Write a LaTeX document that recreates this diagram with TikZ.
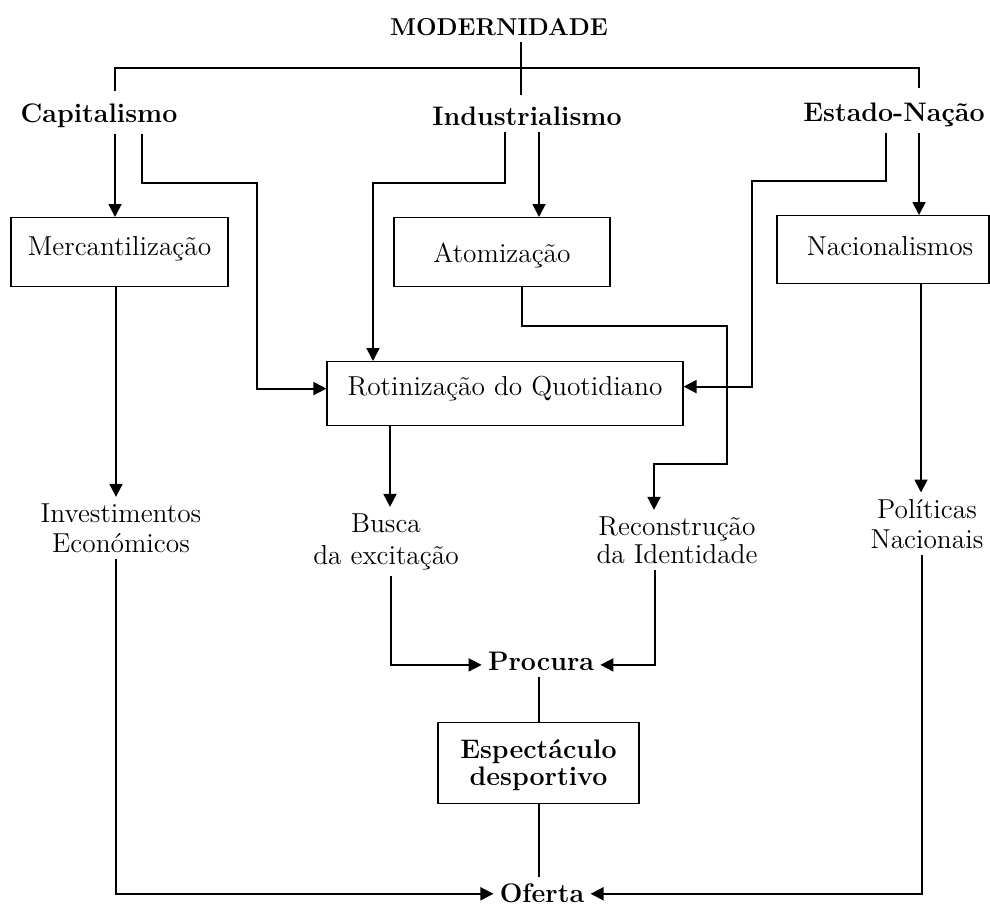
\documentclass[tikz,border=0pt]{standalone}
\usetikzlibrary{arrows.meta}
\begin{document}
\begin{tikzpicture}[x=0.5pt,y=-0.5pt,
  lbl/.style={anchor=base, inner sep=3pt, font=\fontsize{13.4}{15}\selectfont\bfseries},
  txt/.style={anchor=base, inner sep=3pt, align=center, font=\fontsize{13.7}{15}\selectfont},
  box/.style={draw, line width=0.6pt, inner sep=0pt, anchor=north, font=\fontsize{13.7}{15}\selectfont},
  link/.style={line width=0.9pt},
  arr/.style={link, -{Triangle[length=6.5pt,width=6.5pt]}}]
\useasboundingbox (0,0) rectangle (990,906);

% --- labels of the top level
\node[lbl, font=\fontsize{12.2}{14}\selectfont\bfseries] (mod) at (499,35) {MODERNIDADE};
\node[lbl] (cap) at (99,122) {Capitalismo};
\node[lbl] (ind) at (527,125) {Industrialismo};
\node[lbl] (est) at (894,121) {Estado-Nação};

% --- boxes
\node[box, minimum width=108.5pt, text height=19pt, text depth=15.5pt] (merc) at (119.5,217) {Mercantilização\hspace{7.5pt}};
\node[box, minimum width=108pt, text height=22.5pt, text depth=12pt] (atom) at (502,217) {Atomização\hspace{4pt}};
\node[box, minimum width=106pt, text height=20pt, text depth=14pt] (nac) at (883,215) {\hspace{7pt}Nacionalismos};
\node[box, minimum width=178pt, text height=17pt, text depth=15pt] (rot) at (505,361) {Rotinização do Quotidiano\hspace{6pt}};
\node[box, minimum width=100.5pt, text height=31.5pt, text depth=9pt, align=center,
      font=\fontsize{13.4}{13.5}\selectfont\bfseries] (esp) at (538.5,722) {Espectáculo\\desportivo};

% --- intermediate labels (anchored at the baseline of their last line)
\node[txt] (inv) at (121,552) {Investimentos\\Económicos};
\node[txt, font=\fontsize{13.7}{16}\selectfont] (bus) at (386,564) {Busca\\da excitação};
\node[txt, font=\fontsize{13.7}{14}\selectfont] (rec) at (677,563) {Reconstrução\\da Identidade};
\node[txt] (pol) at (927,548) {Políticas\\Nacionais};
\node[lbl] (proc) at (541,670) {Procura};
\node[lbl] (ofe) at (542,902) {Oferta};

% --- branching from the top
\coordinate (hub) at (521,68);
\coordinate (hubend) at (521,95);
\coordinate (barL) at (115,91);
\coordinate (barR) at (919,88);
\draw[link] (mod.south -| hub) -- (hubend);
\draw[link] (barL) |- (hub) -| (barR);

% --- Capitalismo
\draw[arr] (cap.south -| 115,0) -- (merc.north -| 115,0);
\draw[arr] (cap.south -| 142,0) |- (257,183) |- ([yshift=2.5pt]rot.west);

% --- Industrialismo
\draw[arr] (ind.south -| 505,0) |- (373,183) -- (rot.north -| 373,0);
\draw[arr] (ind.south -| 539,0) -- (atom.north -| 539,0);

% --- Estado-Nação
\draw[arr] (est.south -| 886,0) |- (752,181) |- ([yshift=3.5pt]rot.east);
\draw[arr] (est.south -| 919,0) -- (nac.north -| 919,0);

% --- second level
\draw[arr] (merc.south -| 116,0) -- (inv.north -| 116,0);
\draw[arr] (atom.south -| 522,0) |- (727,326) |- (654,464) -- (rec.north -| 654,0);
\draw[arr] (nac.south -| 921,0) -- (pol.north -| 921,0);
\draw[arr] (rot.south -| 390,0) -- (bus.north -| 390,0);

% --- demand
\draw[arr] (bus.south -| 391,0) |- ([yshift=-2pt]proc.west);
\draw[arr] (rec.south -| 655,0) |- ([yshift=-2pt]proc.east);
\draw[link] (proc.south -| 539,0) -- (esp.north -| 539,0);

% --- supply
\draw[link] (esp.south -| 539,0) -- (ofe.north -| 539,0);
\draw[arr] (inv.south -| 116,0) |- ([yshift=-0.5pt]ofe.west);
\draw[arr] (pol.south -| 922,0) |- ([yshift=-0.5pt]ofe.east);
\end{tikzpicture}
\end{document}
